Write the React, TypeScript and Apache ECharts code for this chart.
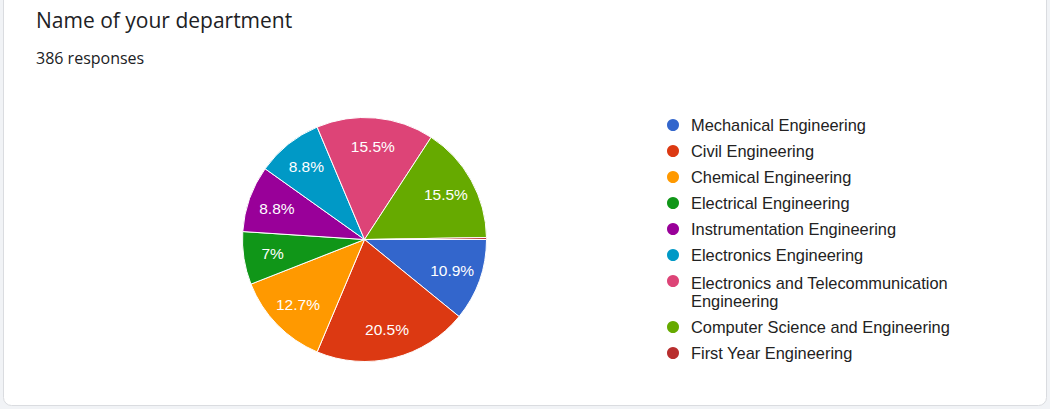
import React, { useEffect, useRef } from "react";
import * as echarts from "echarts";

const chartTitle = "Name of your department";
const responseLabel = "386 responses";

const categories = [
  "Mechanical Engineering",
  "Civil Engineering",
  "Chemical Engineering",
  "Electrical Engineering",
  "Instrumentation Engineering",
  "Electronics Engineering",
  "Electronics and Telecommunication Engineering",
  "Computer Science and Engineering",
  "First Year Engineering",
];

const counts = [42, 79, 49, 27, 34, 34, 60, 60, 1];

const colors = [
  "#3366cc",
  "#dc3912",
  "#ff9900",
  "#109618",
  "#990099",
  "#0099c6",
  "#dd4477",
  "#66aa00",
  "#b82e2e",
];

const wrapAfter = "Telecommunication ";

export default function App() {
  const ref = useRef<HTMLDivElement>(null);

  useEffect(() => {
    document.body.style.margin = "0";
    if (!ref.current) return;
    const chart = echarts.init(ref.current, null, { renderer: "svg" });
    const total = counts.reduce((a, b) => a + b, 0);
    const fmtPct = (v: number) => {
      const p = Math.round((v / total) * 1000) / 10;
      return p < 5 ? "" : `${p}%`;
    };
    const center = [364.5, 239.5];
    const data = categories.map((name, i) => ({
      name,
      value: counts[i],
      itemStyle: { color: colors[i] },
    }));
    const labelData = categories.map((name, i) => ({
      name,
      value: counts[i],
      itemStyle: { color: "rgba(0,0,0,0)" },
    }));
    const splitAt = categories.findIndex((n) => n.includes(wrapAfter));

    const font = { fontFamily: "Arial", fontSize: 16.4, color: "#222222" };

    const legendBase = {
      orient: "vertical",
      left: 660,
      icon: "circle",
      itemWidth: 14,
      itemHeight: 14,
      itemGap: 6,
      formatter: (n: string) => {
        const i = n.indexOf(wrapAfter);
        if (i < 0) return n;
        const first = n.slice(0, i + wrapAfter.length).trim();
        const rest = n.slice(i + wrapAfter.length);
        return `{a|${first}}\n{b|${rest}}`;
      },
      textStyle: {
        ...font,
        lineHeight: 20,
        padding: [0, 0, 0, 6],
        rich: {
          a: { ...font, lineHeight: 40, verticalAlign: "bottom" },
          b: { ...font, lineHeight: 20 },
        },
      },
    };

    chart.setOption({
      animation: false,
      backgroundColor: "#f1f3f6",
      graphic: [
        {
          type: "rect",
          z: -100,
          silent: true,
          shape: { x: 3.5, y: -10, width: 1043, height: 415.5, r: 8 },
          style: { fill: "#ffffff", stroke: "#dadce0", lineWidth: 1 },
        },
      ],
      title: [
        {
          text: chartTitle,
          left: 31,
          top: 4,
          textStyle: {
            fontFamily: "Open Sans",
            fontSize: 21,
            fontWeight: "normal",
            color: "#202124",
          },
        },
        {
          text: responseLabel,
          left: 31,
          top: 45,
          textStyle: {
            fontFamily: "Open Sans",
            fontSize: 16,
            fontWeight: "normal",
            color: "#202124",
          },
        },
      ],
      legend: [
        { ...legendBase, top: 110, data: categories.slice(0, splitAt) },
        { ...legendBase, top: 246, data: categories.slice(splitAt) },
      ],
      series: [
        {
          type: "pie",
          center,
          radius: [0, 122],
          startAngle: 0,
          clockwise: true,
          silent: true,
          data,
          label: { show: false },
          labelLine: { show: false },
          itemStyle: { borderColor: "#ffffff", borderWidth: 1 },
        },
        {
          type: "pie",
          center,
          radius: [58, 122],
          startAngle: 0,
          clockwise: true,
          silent: true,
          legendHoverLink: false,
          data: labelData,
          label: {
            show: true,
            position: "inside",
            formatter: (p: any) => fmtPct(p.value),
            color: "#ffffff",
            fontFamily: "Arial",
            fontSize: 15.5,
          },
          labelLine: { show: false },
        },
      ],
    });
    return () => chart.dispose();
  }, []);

  return <div ref={ref} style={{ width: 1050, height: 409 }} />;
}
